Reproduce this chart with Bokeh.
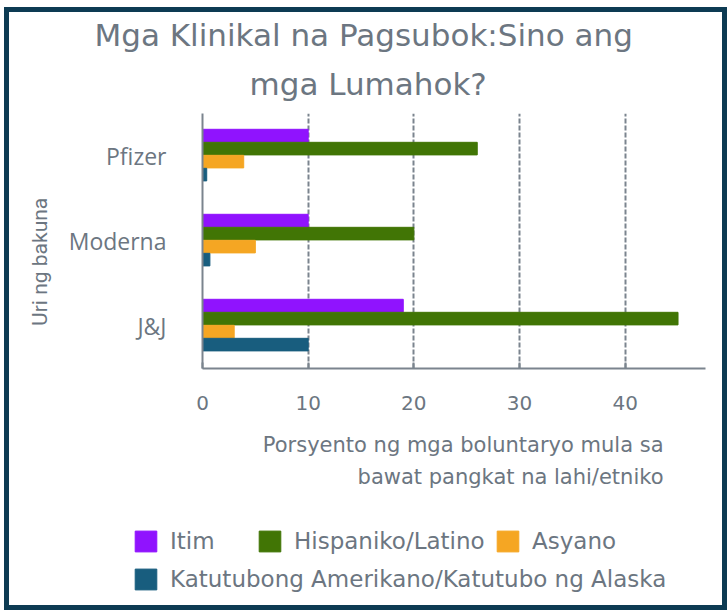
from bokeh.plotting import figure
from bokeh.models import (ColumnDataSource, FactorRange, Range1d, FixedTicker,
                          Legend, LegendItem, Title)
from bokeh.transform import dodge
from bokeh.embed import file_html
from bokeh.resources import INLINE

vaccines = ["Pfizer", "Moderna", "J&J"]
itim = [10, 10, 19]
hispaniko = [26, 20, 45]
asyano = [3.9, 5, 3]
katutubo = [0.4, 0.7, 10]
series_names = ["Itim", "Hispaniko/Latino", "Asyano",
                "Katutubong Amerikano/Katutubo ng Alaska"]
x_ticks = [0, 10, 20, 30, 40]

colors = ["#9013FE", "#417505", "#F5A623", "#185D7E"]
offsets = [0.24, 0.087, -0.066, -0.219]
GRAY = "#6c7681"
AXIS_GRAY = "#7b848e"
NARROW = "Roboto"

src = ColumnDataSource(dict(vaccine=vaccines, itim=itim, hispaniko=hispaniko,
                            asyano=asyano, katutubo=katutubo))

p = figure(width=723, height=603,
           y_range=FactorRange(factors=vaccines[::-1]),
           x_range=Range1d(0, 47.6),
           output_backend="svg", toolbar_location=None,
           min_border_left=198, min_border_right=22,
           min_border_top=106, min_border_bottom=242)
p.outline_line_color = None
p.background_fill_color = "white"
p.border_fill_color = None
p.styles = {"position": "fixed", "left": "4px", "top": "7px",
            "box-shadow": "inset 0 0 0 5px #0d3b53", "background": "white"}

renderers = []
for col, c, off in zip(["itim", "hispaniko", "asyano", "katutubo"], colors, offsets):
    r = p.hbar(y=dodge("vaccine", off, range=p.y_range), right=col, left=0,
               height=0.148, color=c, source=src)
    renderers.append(r)

# title (two lines)
p.title.text = "Mga Klinikal na Pagsubok:Sino ang"
p.title.align = "left"
p.title.text_font = "DejaVu Sans"
p.title.text_font_size = "31px"
p.title.text_font_style = "normal"
p.title.text_color = GRAY
p.title.offset = -108
p.title.standoff = 0
t2 = Title(text="mga Lumahok?", align="left",
           text_font="DejaVu Sans", text_font_size="31px", text_font_style="normal",
           text_color=GRAY, offset=47, standoff=23)
p.add_layout(t2, "above")

# x axis
xa = p.xaxis[0]
xa.ticker = FixedTicker(ticks=x_ticks)
xa.axis_line_color = AXIS_GRAY
xa.axis_line_width = 2
xa.major_tick_in = 6
xa.major_tick_out = 0
xa.major_tick_line_color = AXIS_GRAY
xa.major_tick_line_width = 2
xa.minor_tick_line_color = None
xa.major_label_text_font = "DejaVu Sans"
xa.major_label_text_font_size = "20px"
xa.major_label_text_color = GRAY
xa.major_label_standoff = 27

# y axis
ya = p.yaxis[0]
ya.axis_line_color = AXIS_GRAY
ya.axis_line_width = 2
ya.major_tick_line_color = None
ya.minor_tick_line_color = None
ya.major_label_text_font = "Open Sans"
ya.major_label_text_font_size = "23px"
ya.major_label_text_color = GRAY
ya.major_label_standoff = 30
ya.axis_label = "Uri ng bakuna" + "\u00a0" * 8
ya.axis_label_text_font = NARROW
ya.axis_label_text_font_size = "21px"
ya.axis_label_text_font_style = "normal"
ya.axis_label_text_color = GRAY
ya.axis_label_standoff = 14

p.ygrid.grid_line_color = None
p.xgrid.ticker = FixedTicker(ticks=[10, 20, 30, 40])
p.xgrid.grid_line_color = AXIS_GRAY
p.xgrid.grid_line_width = 2
p.xgrid.grid_line_dash = "5 2"

# x axis label as two right-aligned lines
for txt, so in [("Porsyento ng mga boluntaryo mula sa", 36),
                ("bawat pangkat na lahi/etniko", -24)]:
    t = Title(text=txt, align="right", text_font="DejaVu Sans",
              text_font_size="21px", text_font_style="normal",
              text_color=GRAY, offset=42, standoff=so)
    p.add_layout(t, "below")

# legend strip overlaid on the bottom of the chart
p2 = figure(width=723, height=90, x_range=Range1d(0, 1), y_range=Range1d(0, 1),
            output_backend="svg", toolbar_location=None,
            x_axis_location=None, y_axis_location=None,
            min_border=0, min_border_left=0, min_border_right=0,
            min_border_top=0, min_border_bottom=0)
p2.outline_line_color = None
p2.background_fill_color = None
p2.border_fill_color = None
p2.grid.grid_line_color = None
p2.styles = {"position": "fixed", "left": "4px", "top": "520px"}

key_renderers = [p2.hbar(y=0.5, left=0, right=1, height=0.1, color=c, visible=False)
                 for c in colors]
leg_locs = [(128, 56), (252, 56), (490, 56), (128, 18)]
for name, kr, loc in zip(series_names, key_renderers, leg_locs):
    lg = Legend(items=[LegendItem(label=name, renderers=[kr])], location=loc)
    lg.label_text_font = "DejaVu Sans"
    lg.label_text_font_size = "23px"
    lg.label_text_color = GRAY
    lg.glyph_width = 27
    lg.glyph_height = 26
    lg.label_standoff = 11
    lg.padding = 0
    lg.margin = 0
    lg.border_line_color = None
    lg.background_fill_alpha = 0
    p2.add_layout(lg, "center")

open("out.html", "w").write(file_html([p, p2], INLINE))
